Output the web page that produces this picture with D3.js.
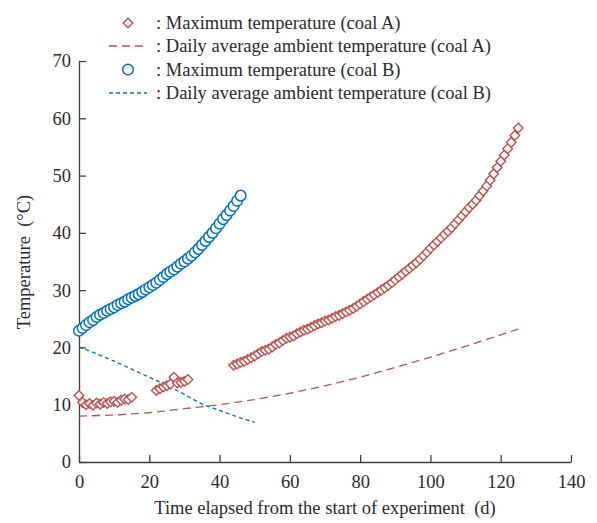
<!DOCTYPE html>
<html>
<head>
<meta charset="utf-8">
<script src="https://cdn.jsdelivr.net/npm/d3@7"></script>
<style>
  body { margin: 0; background: #ffffff; }
  svg, svg text { font-family: "Liberation Serif", "Times New Roman", serif; }
</style>
</head>
<body>
<div id="chart"></div>
<script>
// coal B, max temperature, daily from day 0
var daysB = d3.range(0, 47);
var maxTempB = [22.9, 23.4, 23.9, 24.4, 24.8, 25.3, 25.7, 26.0, 26.4, 26.7,
  27.0, 27.4, 27.7, 28.0, 28.4, 28.7, 29.0, 29.3, 29.7, 30.1,
  30.5, 30.9, 31.3, 31.8, 32.3, 32.8, 33.2, 33.6, 34.1, 34.6,
  35.0, 35.5, 36.0, 36.6, 37.2, 37.9, 38.6, 39.3, 40.0, 40.8,
  41.6, 42.4, 43.1, 43.9, 44.7, 45.6, 46.5];

// coal A, max temperature (three measured periods)
var daysA = [0,1,2,3,4,5,6,7,8,9,10,11,12,13,14,15,
  22,23,24,25,26,27,28,29,30,31].concat(d3.range(44, 126));
var maxTempA = [11.6, 10.4, 10.0, 10.2, 9.9, 10.3, 10.1, 10.4, 10.2, 10.5, 10.6, 10.4, 10.8, 11.0, 10.9, 11.3,
  12.5, 12.8, 13.1, 13.3, 13.6, 14.8, 13.8, 13.9, 14.1, 14.4,
  16.9, 17.1, 17.4, 17.6, 17.9, 18.2, 18.5, 18.9, 19.3, 19.5,
  19.7, 20.1, 20.5, 20.8, 21.2, 21.6, 21.8, 22.0, 22.4, 22.7,
  23.0, 23.2, 23.5, 23.8, 24.1, 24.3, 24.6, 24.8, 25.1, 25.4,
  25.6, 25.9, 26.2, 26.5, 26.8, 27.2, 27.6, 28.0, 28.4, 28.8,
  29.2, 29.6, 30.0, 30.4, 30.8, 31.3, 31.8, 32.3, 32.8, 33.3,
  33.8, 34.3, 34.8, 35.4, 36.0, 36.6, 37.3, 37.9, 38.5, 39.1,
  39.7, 40.3, 40.9, 41.6, 42.3, 43.0, 43.7, 44.4, 45.0, 45.7,
  46.5, 47.3, 48.2, 49.2, 50.3, 51.4, 52.5, 53.6, 54.7, 55.8,
  57.0, 58.3];

// daily average ambient temperature
var ambDaysA = [0, 10, 20, 30, 40, 50, 60, 70, 80, 90, 100, 110, 120, 125];
var ambTempA = [8.0, 8.2, 8.6, 9.3, 10.0, 10.9, 12.0, 13.3, 14.8, 16.5, 18.3, 20.2, 22.2, 23.2];
var ambDaysB = [0, 5, 10, 15, 20, 25, 30, 35, 40, 45, 50];
var ambTempB = [20.1, 18.9, 17.6, 16.2, 14.8, 13.4, 11.8, 10.1, 9.0, 7.9, 6.9];

var xTicks = [0, 20, 40, 60, 80, 100, 120, 140];
var yTicks = [0, 10, 20, 30, 40, 50, 60, 70];

var legendLabels = [": Maximum temperature (coal A)",
  ": Daily average ambient temperature (coal A)",
  ": Maximum temperature (coal B)",
  ": Daily average ambient temperature (coal B)"];

var red = "#c0504d", blue = "#0070c0", axisColor = "#404040", textColor = "#2b2b2b";
var serif = "'Liberation Serif', 'Times New Roman', serif";

var W = 597, H = 523;
var margin = { top: 61, right: 26, bottom: 61, left: 79 };

var svg = d3.select("#chart").append("svg")
  .attr("width", W).attr("height", H)
  .attr("font-family", serif);

var x = d3.scaleLinear().domain([0, 140]).range([margin.left, W - margin.right]);
var y = d3.scaleLinear().domain([0, 70]).range([H - margin.bottom, margin.top]);

// axes, ticks pointing inward
var xAxis = d3.axisBottom(x).tickValues(xTicks).tickSizeInner(-7).tickSizeOuter(0).tickPadding(13);
var yAxis = d3.axisLeft(y).tickValues(yTicks).tickSizeInner(-7).tickSizeOuter(0).tickPadding(8);

var gx = svg.append("g").attr("transform", "translate(0," + y(0) + ")").call(xAxis);
var gy = svg.append("g").attr("transform", "translate(" + x(0) + ",0)").call(yAxis);
[gx, gy].forEach(function (g) {
  g.attr("font-family", serif).attr("font-size", 18.5);
  g.selectAll("path, line").attr("stroke", axisColor).attr("stroke-width", 1.3);
  g.selectAll("text").attr("fill", textColor);
});

// axis titles
svg.append("text")
  .attr("x", (x(0) + x(140)) / 2)
  .attr("y", 514)
  .attr("text-anchor", "middle")
  .attr("fill", textColor)
  .attr("font-size", 18.5)
  .attr("xml:space", "preserve")
  .text("Time elapsed from the start of experiment  (d)");

svg.append("text")
  .attr("transform", "translate(30,262) rotate(-90)")
  .attr("text-anchor", "middle")
  .attr("fill", textColor)
  .attr("font-size", 18.5)
  .attr("xml:space", "preserve")
  .text("Temperature  (°C)");

// ambient lines
var line = d3.line().x(function (d) { return x(d[0]); }).y(function (d) { return y(d[1]); });

svg.append("path")
  .attr("d", line(d3.zip(ambDaysA, ambTempA)))
  .attr("fill", "none").attr("stroke", red).attr("stroke-width", 1.3)
  .attr("stroke-dasharray", "8,5");

svg.append("path")
  .attr("d", line(d3.zip(ambDaysB, ambTempB)))
  .attr("fill", "none").attr("stroke", blue).attr("stroke-width", 1.3)
  .attr("stroke-dasharray", "4,3");

// markers
var diamond = d3.symbol().type(d3.symbolSquare).size(46);

svg.append("g").selectAll("path")
  .data(d3.zip(daysA, maxTempA))
  .enter().append("path")
  .attr("d", diamond)
  .attr("transform", function (d) { return "translate(" + x(d[0]) + "," + y(d[1]) + ") rotate(45)"; })
  .attr("fill", "#ffffff").attr("stroke", red).attr("stroke-width", 1.4);

svg.append("g").selectAll("circle")
  .data(d3.zip(daysB, maxTempB))
  .enter().append("circle")
  .attr("cx", function (d) { return x(d[0]); })
  .attr("cy", function (d) { return y(d[1]); })
  .attr("r", 5.3)
  .attr("fill", "#ffffff").attr("stroke", blue).attr("stroke-width", 1.5);

// legend
var legendY = [23, 46, 69.5, 93];
var lg = svg.append("g");
lg.append("path").attr("d", diamond)
  .attr("transform", "translate(128," + legendY[0] + ") rotate(45)")
  .attr("fill", "#ffffff").attr("stroke", red).attr("stroke-width", 1.4);
lg.append("line").attr("x1", 109).attr("x2", 147).attr("y1", legendY[1]).attr("y2", legendY[1])
  .attr("stroke", red).attr("stroke-width", 1.3).attr("stroke-dasharray", "8,5");
lg.append("circle").attr("cx", 128).attr("cy", legendY[2]).attr("r", 5.3)
  .attr("fill", "#ffffff").attr("stroke", blue).attr("stroke-width", 1.5);
lg.append("line").attr("x1", 109).attr("x2", 147).attr("y1", legendY[3]).attr("y2", legendY[3])
  .attr("stroke", blue).attr("stroke-width", 1.3).attr("stroke-dasharray", "4,3");

lg.selectAll("text.lbl")
  .data(legendLabels)
  .enter().append("text")
  .attr("class", "lbl")
  .attr("x", 156)
  .attr("y", function (d, i) { return legendY[i] + 6; })
  .attr("fill", textColor)
  .attr("font-size", 18.5)
  .text(function (d) { return d; });
</script>
</body>
</html>
